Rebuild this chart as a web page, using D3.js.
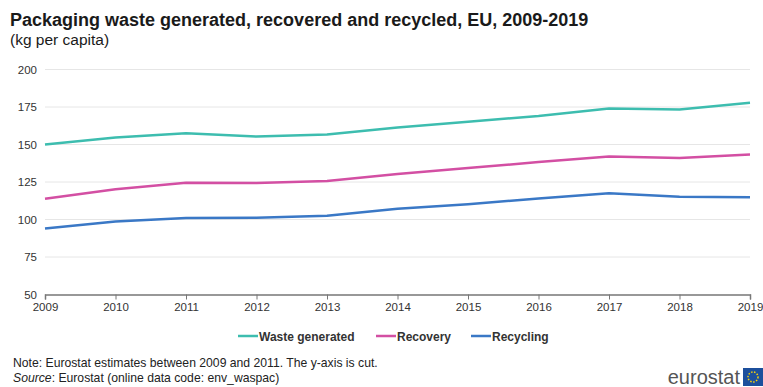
<!DOCTYPE html>
<html>
<head>
<meta charset="utf-8">
<script src="https://cdn.jsdelivr.net/npm/d3@7"></script>
<style>
  html, body { margin: 0; padding: 0; background: #fff; }
  svg { display: block; font-family: "Liberation Sans", Arial, sans-serif; }
</style>
</head>
<body>
<svg id="chart" width="763" height="387"></svg>
<script>
// Packaging waste per capita, EU, 2009-2019
const years = [2009, 2010, 2011, 2012, 2013, 2014, 2015, 2016, 2017, 2018, 2019];
const wasteGenerated = [150.0, 154.6, 157.5, 155.3, 156.6, 161.4, 165.2, 169.0, 174.0, 173.4, 177.8];
const recovery       = [113.8, 120.1, 124.5, 124.3, 125.6, 130.4, 134.3, 138.3, 142.0, 141.0, 143.4];
const recycling      = [94.0, 98.6, 101.0, 101.2, 102.5, 107.2, 110.2, 114.0, 117.5, 115.2, 114.8];
const yTicks = [50, 75, 100, 125, 150, 175, 200];
const seriesNames = ["Waste generated", "Recovery", "Recycling"];
const seriesColors = ["#3dbdaf", "#d34fa3", "#3a78c6"];

const series = [wasteGenerated, recovery, recycling].map((values, i) => ({
  name: seriesNames[i], color: seriesColors[i], values
}));

const svg = d3.select("#chart");

const x = d3.scaleLinear().domain([2009, 2019]).range([45, 750]);
const y = d3.scaleLinear().domain([50, 200]).range([294.5, 69.5]);

// Titles
svg.append("text").attr("x", 10).attr("y", 26)
  .attr("font-size", 18).attr("font-weight", "bold").attr("fill", "#1a1a1a")
  .text("Packaging waste generated, recovered and recycled, EU, 2009-2019");
svg.append("text").attr("x", 10).attr("y", 45)
  .attr("font-size", 15.5).attr("fill", "#1a1a1a")
  .text("(kg per capita)");

// Horizontal grid
svg.append("g").selectAll("line")
  .data(yTicks.filter(d => d !== 50))
  .join("line")
  .attr("x1", 45).attr("x2", 750)
  .attr("y1", d => y(d)).attr("y2", d => y(d))
  .attr("stroke", "#e6e6e6").attr("stroke-width", 1);

// Y axis labels
const yAxis = svg.append("g").attr("transform", "translate(37,0)")
  .call(d3.axisLeft(y).tickValues(yTicks).tickSize(0).tickPadding(0));
yAxis.select(".domain").remove();
yAxis.selectAll("text").attr("font-size", 11.5).attr("fill", "#333")
  .attr("font-family", "Liberation Sans, Arial, sans-serif");

// X axis
const xAxis = svg.append("g").attr("transform", `translate(0,${y(50)})`)
  .call(d3.axisBottom(x).tickValues(years).tickFormat(d3.format("d")).tickSize(5).tickPadding(3));
xAxis.select(".domain").attr("stroke", "#777").attr("stroke-width", 1.5);
xAxis.selectAll(".tick line").attr("stroke", "#777");
xAxis.selectAll("text").attr("font-size", 11.5).attr("fill", "#333")
  .attr("font-family", "Liberation Sans, Arial, sans-serif");

// Lines
const line = d3.line().x((d, i) => x(years[i])).y(d => y(d));
svg.append("g").selectAll("path")
  .data(series)
  .join("path")
  .attr("d", d => line(d.values))
  .attr("fill", "none")
  .attr("stroke", d => d.color)
  .attr("stroke-width", 2.5)
  .attr("stroke-linejoin", "round");

// Legend
const legendX = [238, 376, 471];
const legend = svg.append("g").selectAll("g")
  .data(series)
  .join("g")
  .attr("transform", (d, i) => `translate(${legendX[i]},336)`);
legend.append("line")
  .attr("x1", 0).attr("x2", 20).attr("y1", 0).attr("y2", 0)
  .attr("stroke", d => d.color).attr("stroke-width", 2.5);
legend.append("text")
  .attr("x", 21).attr("y", 4.5)
  .attr("font-size", 12).attr("font-weight", "bold").attr("fill", "#333")
  .text(d => d.name);

// Footnotes
svg.append("text").attr("x", 13).attr("y", 367)
  .attr("font-size", 12.2).attr("fill", "#222")
  .text("Note: Eurostat estimates between 2009 and 2011. The y-axis is cut.");
const src = svg.append("text").attr("x", 13).attr("y", 382)
  .attr("font-size", 12.2).attr("fill", "#222");
src.append("tspan").attr("font-style", "italic").text("Source");
src.append("tspan").text(": Eurostat (online data code: env_waspac)");

// Eurostat logo
svg.append("text").attr("x", 740).attr("y", 384)
  .attr("text-anchor", "end")
  .attr("font-size", 20).attr("fill", "#555")
  .text("eurostat");
svg.append("rect").attr("x", 743).attr("y", 368).attr("width", 20).attr("height", 18)
  .attr("fill", "#1c4f9c");
svg.append("circle").attr("cx", 753).attr("cy", 377).attr("r", 5)
  .attr("fill", "none").attr("stroke", "#f5d20a").attr("stroke-width", 1.5)
  .attr("stroke-dasharray", "1.5 1.5");
</script>
</body>
</html>
